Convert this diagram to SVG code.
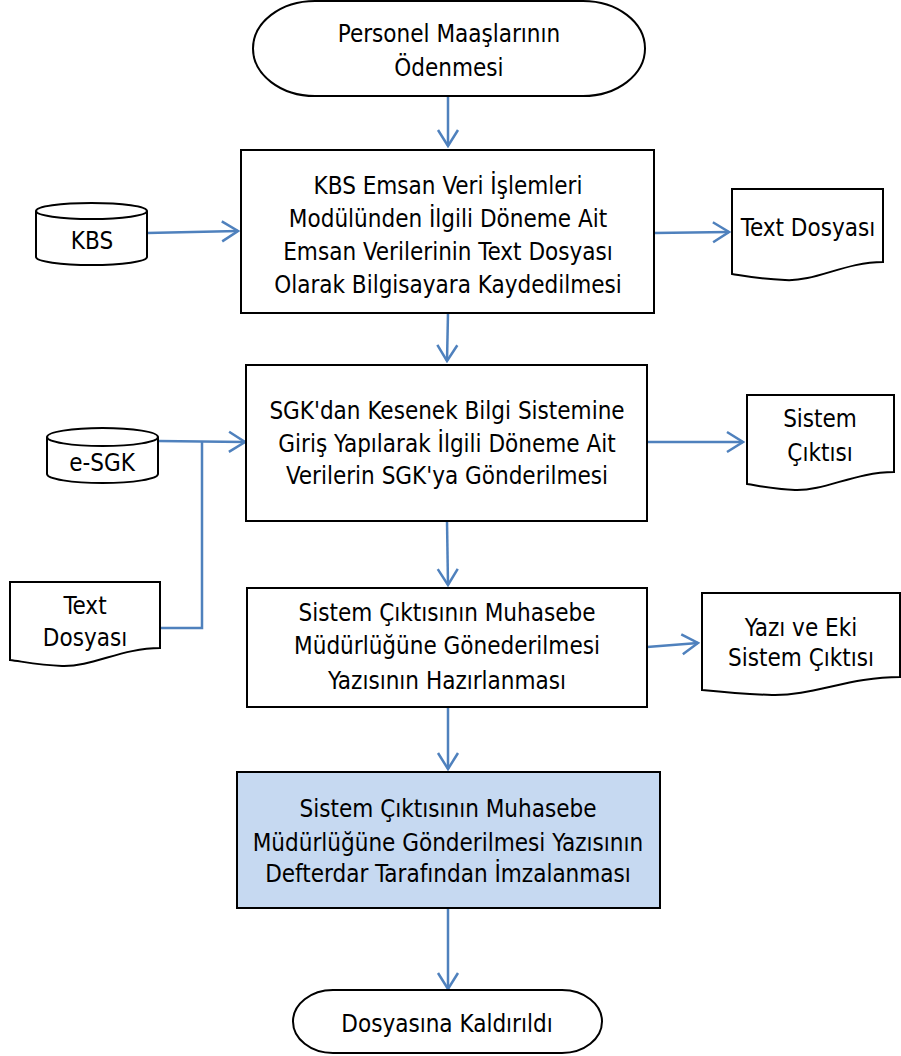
<svg xmlns="http://www.w3.org/2000/svg" width="901" height="1056" viewBox="0 0 901 1056">
<defs>
<style>
.shape{fill:#ffffff;stroke:#000000;stroke-width:2}
.blue{fill:#c6d9f1;stroke:#000000;stroke-width:2}
.t{font-family:"DejaVu Sans","Liberation Sans",sans-serif;font-stretch:condensed;font-size:24px;fill:#000000;text-anchor:middle}
.c{fill:none;stroke:#4f81bd;stroke-width:2.5}
</style>
<marker id="arr" markerUnits="userSpaceOnUse" viewBox="0 0 20 24" markerWidth="20" markerHeight="24" refX="18" refY="12" orient="auto">
<path d="M2,2 L18,12 L2,22" fill="none" stroke="#4f81bd" stroke-width="2.5"/>
</marker>
</defs>
<rect width="901" height="1056" fill="#ffffff"/>

<g id="connectors">
<path class="c" d="M448,96 L448,146" marker-end="url(#arr)"/>
<path class="c" d="M448,313 L447,361" marker-end="url(#arr)"/>
<path class="c" d="M447,521 L448,585" marker-end="url(#arr)"/>
<path class="c" d="M448,707 L448,769" marker-end="url(#arr)"/>
<path class="c" d="M448,908 L448,989" marker-end="url(#arr)"/>
<path class="c" d="M147,233 L238,231" marker-end="url(#arr)"/>
<path class="c" d="M654,233 L729,232" marker-end="url(#arr)"/>
<path class="c" d="M158,441 L245,442" marker-end="url(#arr)"/>
<path class="c" d="M160,628 L202,628 L202,442"/>
<path class="c" d="M647,442 L743,442" marker-end="url(#arr)"/>
<path class="c" d="M647,647 L698,643" marker-end="url(#arr)"/>
</g>

<g id="start">
<rect class="shape" x="253" y="1" width="392" height="95" rx="62" ry="47.5"/>
<text class="t" x="449" y="42">Personel Maaşlarının</text>
<text class="t" x="449" y="76">Ödenmesi</text>
</g>

<g id="box1">
<rect class="shape" x="241" y="150" width="413" height="163"/>
<text class="t" x="448" y="194">KBS Emsan Veri  İşlemleri</text>
<text class="t" x="448" y="227">Modülünden İlgili Döneme Ait</text>
<text class="t" x="448" y="260">Emsan Verilerinin Text Dosyası</text>
<text class="t" x="448" y="293">Olarak Bilgisayara Kaydedilmesi</text>
</g>

<g id="kbs">
<path class="shape" d="M36,211 A55.5,8 0 0 1 147,211 L147,257 A55.5,8 0 0 1 36,257 Z"/>
<path class="shape" fill="none" d="M36,211 A55.5,8 0 0 0 147,211"/>
<text class="t" x="92" y="249">KBS</text>
</g>

<g id="textdosyasi1">
<path class="shape" d="M732,189 L883,189 L883,262 C845,262 815,282 785,280 C760,279 745,276 732,274 Z"/>
<text class="t" x="808" y="236">Text Dosyası</text>
</g>

<g id="box2">
<rect class="shape" x="246" y="365" width="401" height="156"/>
<text class="t" x="447" y="419">SGK'dan Kesenek Bilgi Sistemine</text>
<text class="t" x="447" y="452">Giriş Yapılarak İlgili Döneme Ait</text>
<text class="t" x="447" y="484">Verilerin SGK'ya Gönderilmesi</text>
</g>

<g id="esgk">
<path class="shape" d="M47,437 A55.5,9 0 0 1 158,437 L158,474 A55.5,9 0 0 1 47,474 Z"/>
<path class="shape" fill="none" d="M47,437 A55.5,9 0 0 0 158,437"/>
<text class="t" x="102" y="471">e-SGK</text>
</g>

<g id="sistemciktisi">
<path class="shape" d="M747,395 L894,395 L894,472 C855,472 825,491 795,490 C772,489 760,486 747,484 Z"/>
<text class="t" x="820" y="427">Sistem</text>
<text class="t" x="820" y="461">Çıktısı</text>
</g>

<g id="textdosyasi2">
<path class="shape" d="M10,582 L160,582 L160,648 C122,648 92,667 62,666 C40,665 25,662 10,660 Z"/>
<text class="t" x="85" y="614">Text</text>
<text class="t" x="85" y="646">Dosyası</text>
</g>

<g id="box3">
<rect class="shape" x="247" y="588" width="400" height="119"/>
<text class="t" x="447" y="621">Sistem Çıktısının Muhasebe</text>
<text class="t" x="447" y="654">Müdürlüğüne Gönederilmesi</text>
<text class="t" x="447" y="689">Yazısının Hazırlanması</text>
</g>

<g id="yazieki">
<path class="shape" d="M702,593 L900,593 L900,677 C850,677 812,696 772,695 C742,694 722,692 702,690 Z"/>
<text class="t" x="801" y="636">Yazı ve Eki</text>
<text class="t" x="801" y="666">Sistem Çıktısı</text>
</g>

<g id="box4">
<rect class="blue" x="237" y="772" width="423" height="136"/>
<text class="t" x="448" y="817">Sistem Çıktısının Muhasebe</text>
<text class="t" x="448" y="851">Müdürlüğüne Gönderilmesi Yazısının</text>
<text class="t" x="448" y="882">Defterdar Tarafından İmzalanması</text>
</g>

<g id="end">
<rect class="shape" x="293" y="990" width="309" height="63" rx="40" ry="31.5"/>
<text class="t" x="447" y="1032">Dosyasına Kaldırıldı</text>
</g>
</svg>
